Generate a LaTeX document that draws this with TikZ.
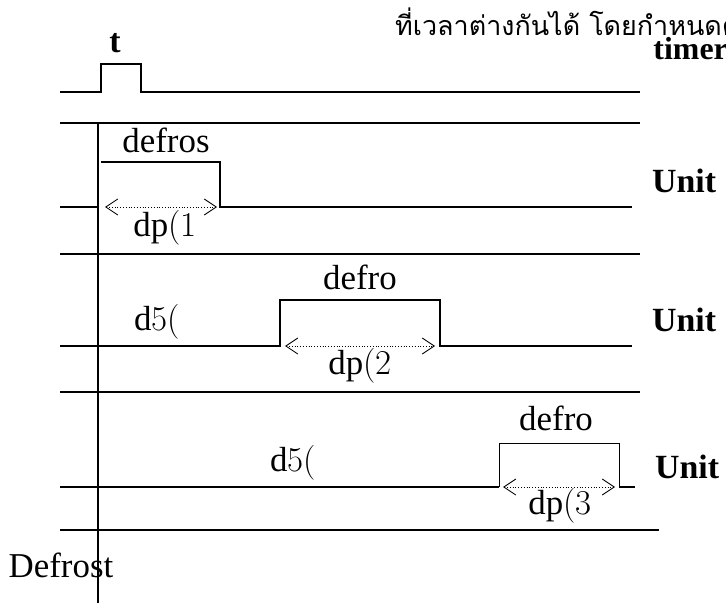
\documentclass[tikz,border=0pt]{standalone}
\usepackage{fontspec}
\setmainfont{Liberation Serif}
\newfontfamily\thaifont[Script=Thai]{Loma}
\newfontfamily\lmfont{Latin Modern Roman}
\usetikzlibrary{arrows.meta}
\begin{document}
\begin{tikzpicture}[x=1bp,y=-1bp,
  sig/.style={line width=1.4bp},
  thinsig/.style={line width=1bp},
  dur/.style={line width=0.8bp,dotted,{Straight Barb[length=12bp,width=16bp,line width=0.9bp]}-{Straight Barb[length=12bp,width=16bp,line width=0.9bp]}},
  lbl/.style={inner sep=0pt,font=\fontsize{35}{40}\selectfont},
  blbl/.style={inner sep=0pt,font=\fontsize{34}{38}\selectfont\bfseries}]
\useasboundingbox (0,0) rectangle (726,603);
% labels
\node[blbl,anchor=base east,font=\fontsize{32}{36}\selectfont\bfseries] (timer) at (728,60) {timer};
\node[anchor=base west,inner sep=0pt,font=\fontsize{27}{31}\thaifont] (thai) at (395,36) {ที่เวลาต่างกันได้ โดยกำหนดค};
\node[blbl] (t) at (115,43) {t};
\node[blbl,anchor=west] (u1) at (652,181) {Unit};
\node[blbl,anchor=west] (u2) at (652,320) {Unit};
\node[blbl,anchor=west] (u3) at (655,467) {Unit};
\node[lbl] (df1) at (166,140) {defros};
\node[lbl] (dp1) at (165,228) {dp{\lmfont(1}};
\node[lbl] (d52) at (157,322) {d{\lmfont 5(}};
\node[lbl] (df2) at (360,277) {defro};
\node[lbl] (dp2) at (360,366) {dp{\lmfont(2}};
\node[lbl] (d53) at (293,463) {d{\lmfont 5(}};
\node[lbl] (df3) at (556,418) {defro};
\node[lbl] (dp3) at (560,506) {dp{\lmfont(3}};
\node[lbl] (dfr) at (61,565) {Defrost};
% timer pulse
\draw[sig] (60,92) -- (101,92) -- (101,64) -- (141,64) -- (141,92) -- (640,92);
% separators
\draw[sig] (60,123) -- (640,123);
\draw[sig] (60,254) -- (640,254);
\draw[sig] (60,392) -- (640,392);
\draw[sig] (60,530) -- (659,530);
% time axis
\draw[sig] (98,123) -- (98,603);
% unit 1
\coordinate (a1) at (105,207); \coordinate (b1) at (217,207);
\draw[sig] (60,207) -- (98,207);
\draw[sig] (101,162) -- (220,162) -- (220,207) -- (632,207);
\draw[dur] (a1) -- (b1);
% unit 2
\coordinate (a2) at (285,346); \coordinate (b2) at (435,346);
\draw[sig] (60,346) -- (280,346) -- (280,300) -- (440,300) -- (440,346) -- (632,346);
\draw[dur] (a2) -- (b2);
% unit 3
\coordinate (a3) at (503,487); \coordinate (b3) at (615,487);
\draw[sig] (60,487) -- (499,487);
\draw[sig] (619,487) -- (635,487);
\draw[thinsig] (499,487) -- (499,443) -- (619,443) -- (619,487);
\draw[dur] (a3) -- (b3);
\end{tikzpicture}
\end{document}
